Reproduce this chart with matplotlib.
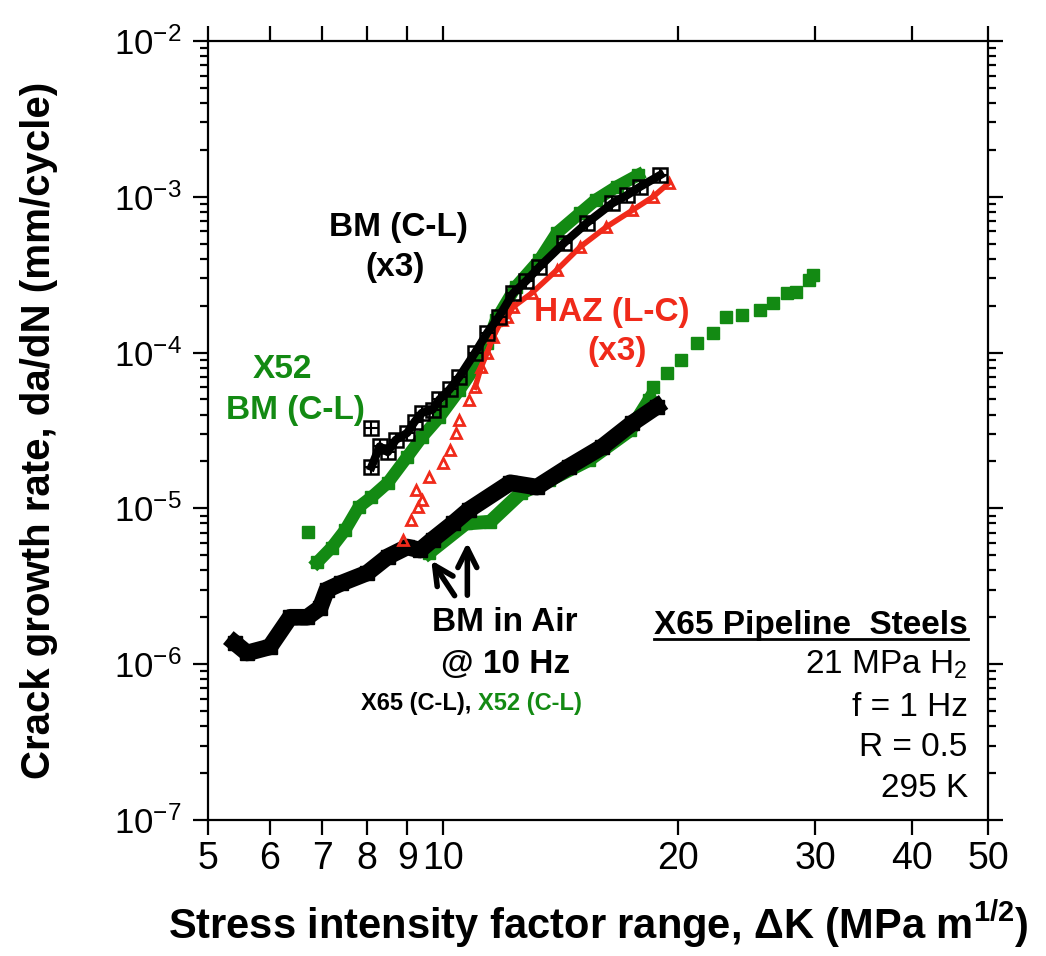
import matplotlib
matplotlib.use("Agg")
import matplotlib.pyplot as plt
import matplotlib.font_manager as fm
from matplotlib.ticker import FixedLocator, NullLocator, LogLocator, NullFormatter, FixedFormatter

# X65 base metal (C-L) in 21 MPa H2, 1 Hz
x65_h2_dk = [8.1, 8.3, 8.5, 8.7, 9.0, 9.2, 9.4, 9.7, 9.9, 10.2, 10.5, 11.0, 11.4, 11.8, 12.3, 12.8,
             13.3, 14.3, 15.3, 16.5, 17.2, 17.9, 19.0]
x65_h2_da = [1.85e-5, 2.5e-5, 2.3e-5, 2.75e-5, 3.05e-5, 3.6e-5, 4.1e-5, 4.3e-5, 5.0e-5, 5.8e-5,
             7.0e-5, 1.0e-4, 1.34e-4, 1.7e-4, 2.4e-4, 2.9e-4, 3.55e-4, 5.05e-4, 6.8e-4, 9.1e-4,
             1.02e-3, 1.16e-3, 1.38e-3]
x65_h2_stray_dk = [8.1]
x65_h2_stray_da = [3.3e-5]

# X52 base metal (C-L) in H2
x52_h2_dk = [6.9, 7.2, 7.5, 7.8, 8.1, 8.5, 9.0, 9.4, 9.9, 10.5, 11.0, 11.4, 11.7, 12.4, 13.3, 14.0,
             15.0, 15.7, 16.7, 17.8]
x52_h2_da = [4.5e-6, 5.6e-6, 7.3e-6, 1.02e-5, 1.18e-5, 1.46e-5, 2.14e-5, 2.87e-5, 3.86e-5, 5.75e-5,
             8.1e-5, 1.15e-4, 1.62e-4, 2.64e-4, 3.93e-4, 5.86e-4, 7.87e-4, 9.55e-4, 1.16e-3, 1.38e-3]
x52_h2_stray_dk = [6.72]
x52_h2_stray_da = [7.1e-6]

# X65 HAZ (L-C) in H2
haz_dk = [8.9, 9.1, 9.25, 9.3, 9.4, 9.6, 10.0, 10.2, 10.4, 10.5, 10.8, 11.0, 11.2, 11.4, 11.6, 11.9,
          12.1, 12.3, 13.0, 14.0, 15.0, 16.2, 17.5, 18.6, 19.5]
haz_da = [6.3e-6, 8.4e-6, 1.31e-5, 1.02e-5, 1.13e-5, 1.59e-5, 1.95e-5, 2.37e-5, 3.05e-5, 3.69e-5,
          4.97e-5, 6.0e-5, 8.1e-5, 1.0e-4, 1.26e-4, 1.62e-4, 1.7e-4, 1.96e-4, 2.41e-4, 3.39e-4,
          4.77e-4, 6.4e-4, 8.2e-4, 1.0e-3, 1.23e-3]

# base metal in air, 10 Hz
air65_dk = [5.41, 5.61, 6.0, 6.37, 6.70, 6.96, 7.1, 7.4, 8.0, 8.5, 9.0, 9.35, 9.7, 10.3, 10.8,
            12.2, 13.2, 14.5, 16.0, 17.5, 18.8]
air65_da = [1.37e-6, 1.18e-6, 1.29e-6, 2.0e-6, 2.0e-6, 2.3e-6, 3.0e-6, 3.3e-6, 3.85e-6, 4.9e-6,
            5.65e-6, 5.4e-6, 6.3e-6, 8.0e-6, 9.8e-6, 1.46e-5, 1.37e-5, 1.85e-5, 2.48e-5, 3.53e-5, 4.5e-5]
air52_dk = [9.6, 10.7, 11.5, 12.6, 13.7, 15.4, 17.4, 18.4, 18.6, 19.4, 20.2, 21.2, 22.2, 23.1,
            24.2, 25.5, 26.5, 27.6, 28.4, 29.5, 29.8]
air52_da = [5.2e-6, 8.0e-6, 8.2e-6, 1.26e-5, 1.52e-5, 2.05e-5, 3.19e-5, 4.97e-5, 6.0e-5, 7.4e-5,
            9.0e-5, 1.15e-4, 1.34e-4, 1.69e-4, 1.74e-4, 1.87e-4, 2.08e-4, 2.41e-4, 2.45e-4,
            2.92e-4, 3.15e-4]

xticks = [5, 6, 7, 8, 9, 10, 20, 30, 40, 50]
xtick_labels = ["5", "6", "7", "8", "9", "10", "20", "30", "40", "50"]
yticks = [1e-7, 1e-6, 1e-5, 1e-4, 1e-3, 1e-2]
ytick_labels = [r"$\mathregular{10^{-%d}}$" % n for n in [7, 6, 5, 4, 3, 2]]

GREEN = "#138a13"
RED = "#f02a1a"

base = ["Liberation Sans", "DejaVu Sans"]
plt.rcParams["font.family"] = base
plt.rcParams["mathtext.fontset"] = "custom"
plt.rcParams["mathtext.rm"] = "Liberation Sans"
plt.rcParams["mathtext.bf"] = "Liberation Sans:bold"

fig = plt.figure(figsize=(10.46, 9.56), dpi=100)
ax = fig.add_axes([0.1989, 0.1423, 0.7457, 0.8148])
ax.set_xscale("log")
ax.set_yscale("log")

# air data
ax.plot(air52_dk[:8], air52_da[:8], color=GREEN, lw=10, zorder=2)
ax.plot(air52_dk, air52_da, "s", color=GREEN, ms=9, zorder=2)
ax.plot(air65_dk, air65_da, color="k", lw=12, zorder=3)
ax.plot(air65_dk, air65_da, "s", color="k", ms=10, zorder=3)

# hydrogen data
ax.plot(x52_h2_dk, x52_h2_da, color=GREEN, lw=9, zorder=4)
ax.plot(x52_h2_dk + x52_h2_stray_dk, x52_h2_da + x52_h2_stray_da, "s", color=GREEN, ms=9, zorder=4)
ax.plot(haz_dk[11:], haz_da[11:], color=RED, lw=4, zorder=5)
ax.plot(haz_dk, haz_da, "^", color=RED, mfc="none", mew=2, ms=7, zorder=5)
ax.plot(x65_h2_dk, x65_h2_da, color="k", lw=6, zorder=6)
ax.plot(x65_h2_dk + x65_h2_stray_dk, x65_h2_da + x65_h2_stray_da, "s", color="k",
        mfc="none", mew=1.8, ms=10, zorder=6)
ax.plot(x65_h2_dk + x65_h2_stray_dk, x65_h2_da + x65_h2_stray_da, "+", color="k",
        mew=1.5, ms=10, zorder=6)

ax.set_xlim(5, 50)
ax.set_ylim(1e-7, 1e-2)
ax.xaxis.set_major_locator(FixedLocator(xticks))
ax.xaxis.set_major_formatter(FixedFormatter(xtick_labels))
ax.xaxis.set_minor_locator(NullLocator())
ax.yaxis.set_major_locator(FixedLocator(yticks))
ax.yaxis.set_major_formatter(FixedFormatter(ytick_labels))
ax.yaxis.set_minor_locator(LogLocator(base=10, subs=range(2, 10)))
ax.yaxis.set_minor_formatter(NullFormatter())

for s in ax.spines.values():
    s.set_linewidth(1.6)
ax.tick_params(which="both", direction="out", top=True, right=True, width=1.6)
ax.tick_params(which="major", length=11)
ax.tick_params(which="minor", length=6)
ax.tick_params(axis="y", labelsize=25, pad=8)
ax.tick_params(axis="x", labelsize=27, pad=4)

ax.set_xlabel(r"Stress intensity factor range, $\mathbf{\Delta}$K (MPa m$^{\mathbf{1/2}}$)",
              fontsize=30, fontweight="bold", labelpad=16)
ax.set_ylabel("Crack growth rate, da/dN (mm/cycle)", fontsize=29,
              fontweight="bold", labelpad=40)

ta = ax.transAxes
ax.text(0.2436, 0.760, "BM (C-L)", transform=ta, ha="center", va="center",
        fontsize=24, fontweight="bold", color="k")
ax.text(0.240, 0.7086, "(x3)", transform=ta, ha="center", va="center",
        fontsize=24, fontweight="bold", color="k")
ax.text(0.518, 0.652, "HAZ (L-C)", transform=ta, ha="center", va="center",
        fontsize=24, fontweight="bold", color=RED)
ax.text(0.524, 0.601, "(x3)", transform=ta, ha="center", va="center",
        fontsize=24, fontweight="bold", color=RED)
ax.text(0.096, 0.578, "X52", transform=ta, ha="center", va="center",
        fontsize=24, fontweight="bold", color=GREEN)
ax.text(0.1115, 0.526, "BM (C-L)", transform=ta, ha="center", va="center",
        fontsize=24, fontweight="bold", color=GREEN)
ax.text(0.381, 0.254, "BM in Air", transform=ta, ha="center", va="center",
        fontsize=24, fontweight="bold", color="k")
ax.text(0.381, 0.200, "@ 10 Hz", transform=ta, ha="center", va="center",
        fontsize=24, fontweight="bold", color="k")
t1 = ax.text(0.196, 0.150, "X65 (C-L), ", transform=ta, ha="left", va="center",
             fontsize=17, fontweight="bold", color="k")
ax.annotate("X52 (C-L)", xy=(1, 0), xycoords=t1, ha="left", va="bottom",
            fontsize=17, fontweight="bold", color=GREEN)

# arrows pointing at the air curves
ax.annotate("", xy=(9.62, 4.8e-6), xytext=(10.4, 2.66e-6),
            arrowprops=dict(arrowstyle="->", lw=4, color="k", mutation_scale=34))
ax.annotate("", xy=(10.75, 6.3e-6), xytext=(10.75, 2.66e-6),
            arrowprops=dict(arrowstyle="->", lw=4, color="k", mutation_scale=34))

title = ax.text(0.974, 0.250, "X65 Pipeline  Steels", transform=ta, ha="right", va="center",
                fontsize=24, fontweight="bold")
cond = ["21 MPa H$_\\mathregular{2}$", "f = 1 Hz", "R = 0.5", "295 K"]
cond_y = [0.199, 0.145, 0.0924, 0.041]
for s, y in zip(cond, cond_y):
    ax.text(0.974, y, s, transform=ta, ha="right", va="center", fontsize=24)

# underline the title
fig.canvas.draw()
bb = title.get_window_extent().transformed(ax.transAxes.inverted())
ax.plot([bb.x0, bb.x1], [bb.y0 + 0.002, bb.y0 + 0.002], transform=ta, color="k", lw=2,
        clip_on=False)

fig.savefig("out.png", dpi=100)
